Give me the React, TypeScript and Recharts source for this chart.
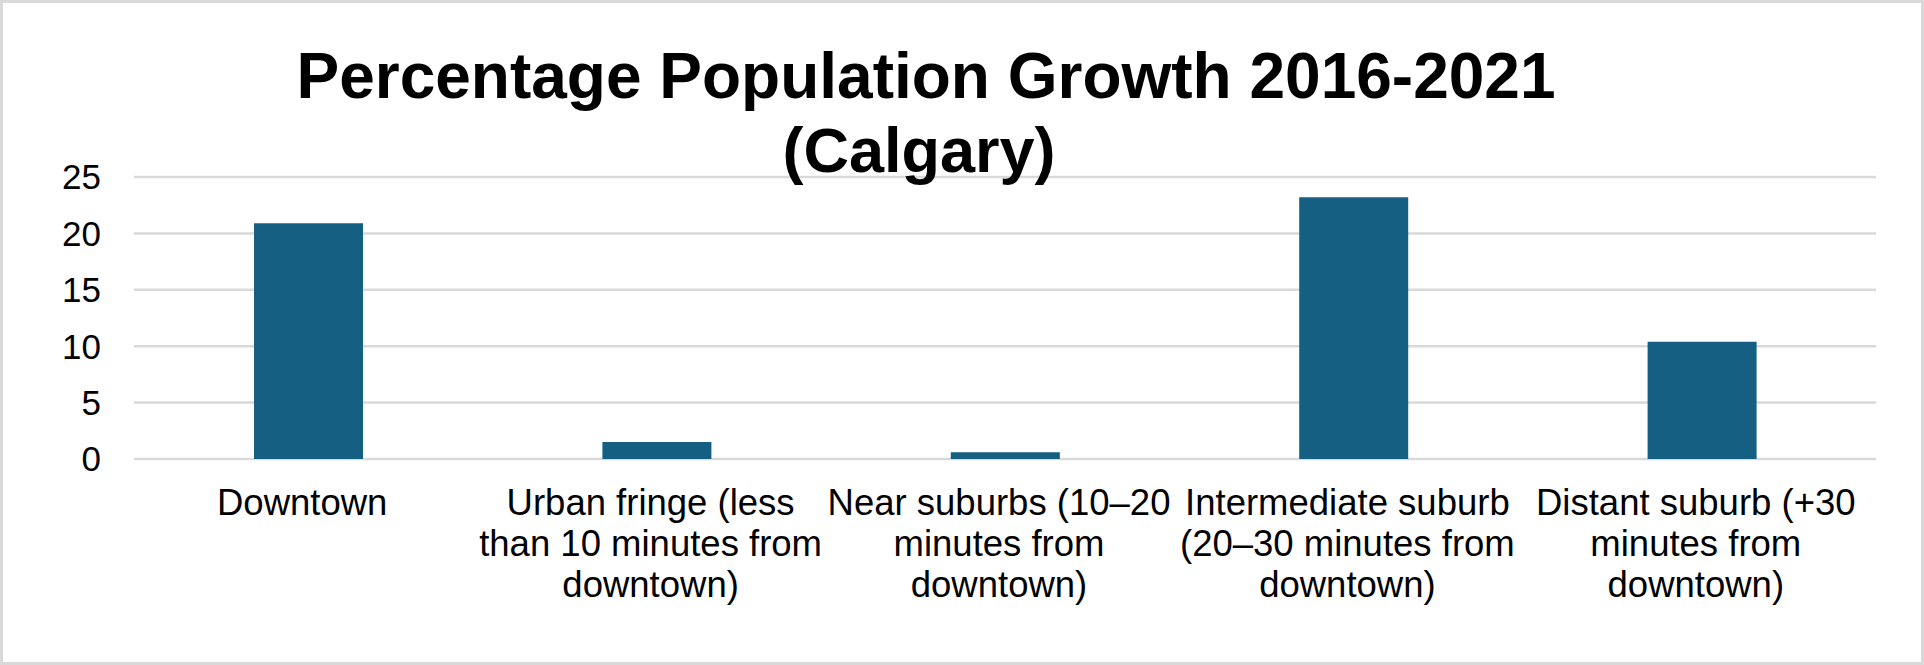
import * as React from "react";
import { Bar, BarChart, CartesianGrid, XAxis, YAxis } from "recharts";

const categories = [
  "Downtown",
  "Urban fringe (less than 10 minutes from downtown)",
  "Near suburbs (10–20 minutes from downtown)",
  "Intermediate suburb (20–30 minutes from downtown)",
  "Distant suburb (+30 minutes from downtown)",
];
const growth = [20.9, 1.5, 0.6, 23.2, 10.4];
const yTicks = [0, 5, 10, 15, 20, 25];
const titleLines = ["Percentage Population Growth 2016-2021", "(Calgary)"];

const FONT = "'Liberation Sans', Arial, sans-serif";
const LABEL_SIZE = 36.5;
const WRAP_WIDTH = 356;

let ctx: CanvasRenderingContext2D | null = null;
function measure(s: string) {
  if (!ctx) {
    ctx = document.createElement("canvas").getContext("2d");
    if (ctx) ctx.font = `${LABEL_SIZE}px ${FONT}`;
  }
  return ctx ? ctx.measureText(s).width : s.length * LABEL_SIZE * 0.5;
}

function wrap(text: string) {
  const words = text.split(" ");
  const lines: string[] = [];
  let cur = "";
  for (const w of words) {
    const next = cur ? cur + " " + w : w;
    if (cur && measure(next) > WRAP_WIDTH) {
      lines.push(cur);
      cur = w;
    } else {
      cur = next;
    }
  }
  if (cur) lines.push(cur);
  return lines;
}

function CategoryTick(props: any) {
  const { x, y, payload } = props;
  const lines = wrap(String(payload.value));
  const cx = x - 6;
  return (
    <text x={cx} y={y + 56} textAnchor="middle" fill="#000" fontSize={LABEL_SIZE} fontFamily={FONT}>
      {lines.map((l, i) => (
        <tspan key={i} x={cx} dy={i === 0 ? 0 : 41}>
          {l}
        </tspan>
      ))}
    </text>
  );
}

export default function App() {
  const data = categories.map((name, i) => ({ name, value: growth[i] }));

  return (
    <div style={{ position: "absolute", left: 0, top: 0, width: 1924, height: 665, background: "#fff" }}>
      <BarChart
        width={1924}
        height={665}
        data={data}
        margin={{ top: 177, right: 48, left: 0, bottom: 0 }}
      >
        <CartesianGrid vertical={false} stroke="#d9d9d9" strokeWidth={2.5} />
        <XAxis
          dataKey="name"
          height={206}
          axisLine={false}
          tickLine={false}
          tickSize={0}
          tickMargin={0}
          interval={0}
          tick={<CategoryTick />}
        />
        <YAxis
          width={134}
          domain={[0, 25]}
          ticks={yTicks}
          axisLine={false}
          tickLine={false}
          tickSize={0}
          tickMargin={33}
          tick={{ fill: "#000", fontSize: 35, fontFamily: FONT }}
        />
        <Bar dataKey="value" fill="#156082" barSize={109} isAnimationActive={false} />
      </BarChart>
      <svg
        width={1924}
        height={665}
        style={{ position: "absolute", left: 0, top: 0, pointerEvents: "none" }}
      >
        <text x={926} y={98} textAnchor="middle" fontFamily={FONT} fontWeight="bold" fontSize={64} fill="#000">
          {titleLines[0]}
        </text>
        <text x={919} y={172} textAnchor="middle" fontFamily={FONT} fontWeight="bold" fontSize={63} fill="#000">
          {titleLines[1]}
        </text>
      </svg>
      <div
        style={{
          position: "absolute",
          left: 0,
          top: 0,
          width: 1924,
          height: 665,
          boxSizing: "border-box",
          border: "3px solid #d9d9d9",
          pointerEvents: "none",
        }}
      />
    </div>
  );
}
